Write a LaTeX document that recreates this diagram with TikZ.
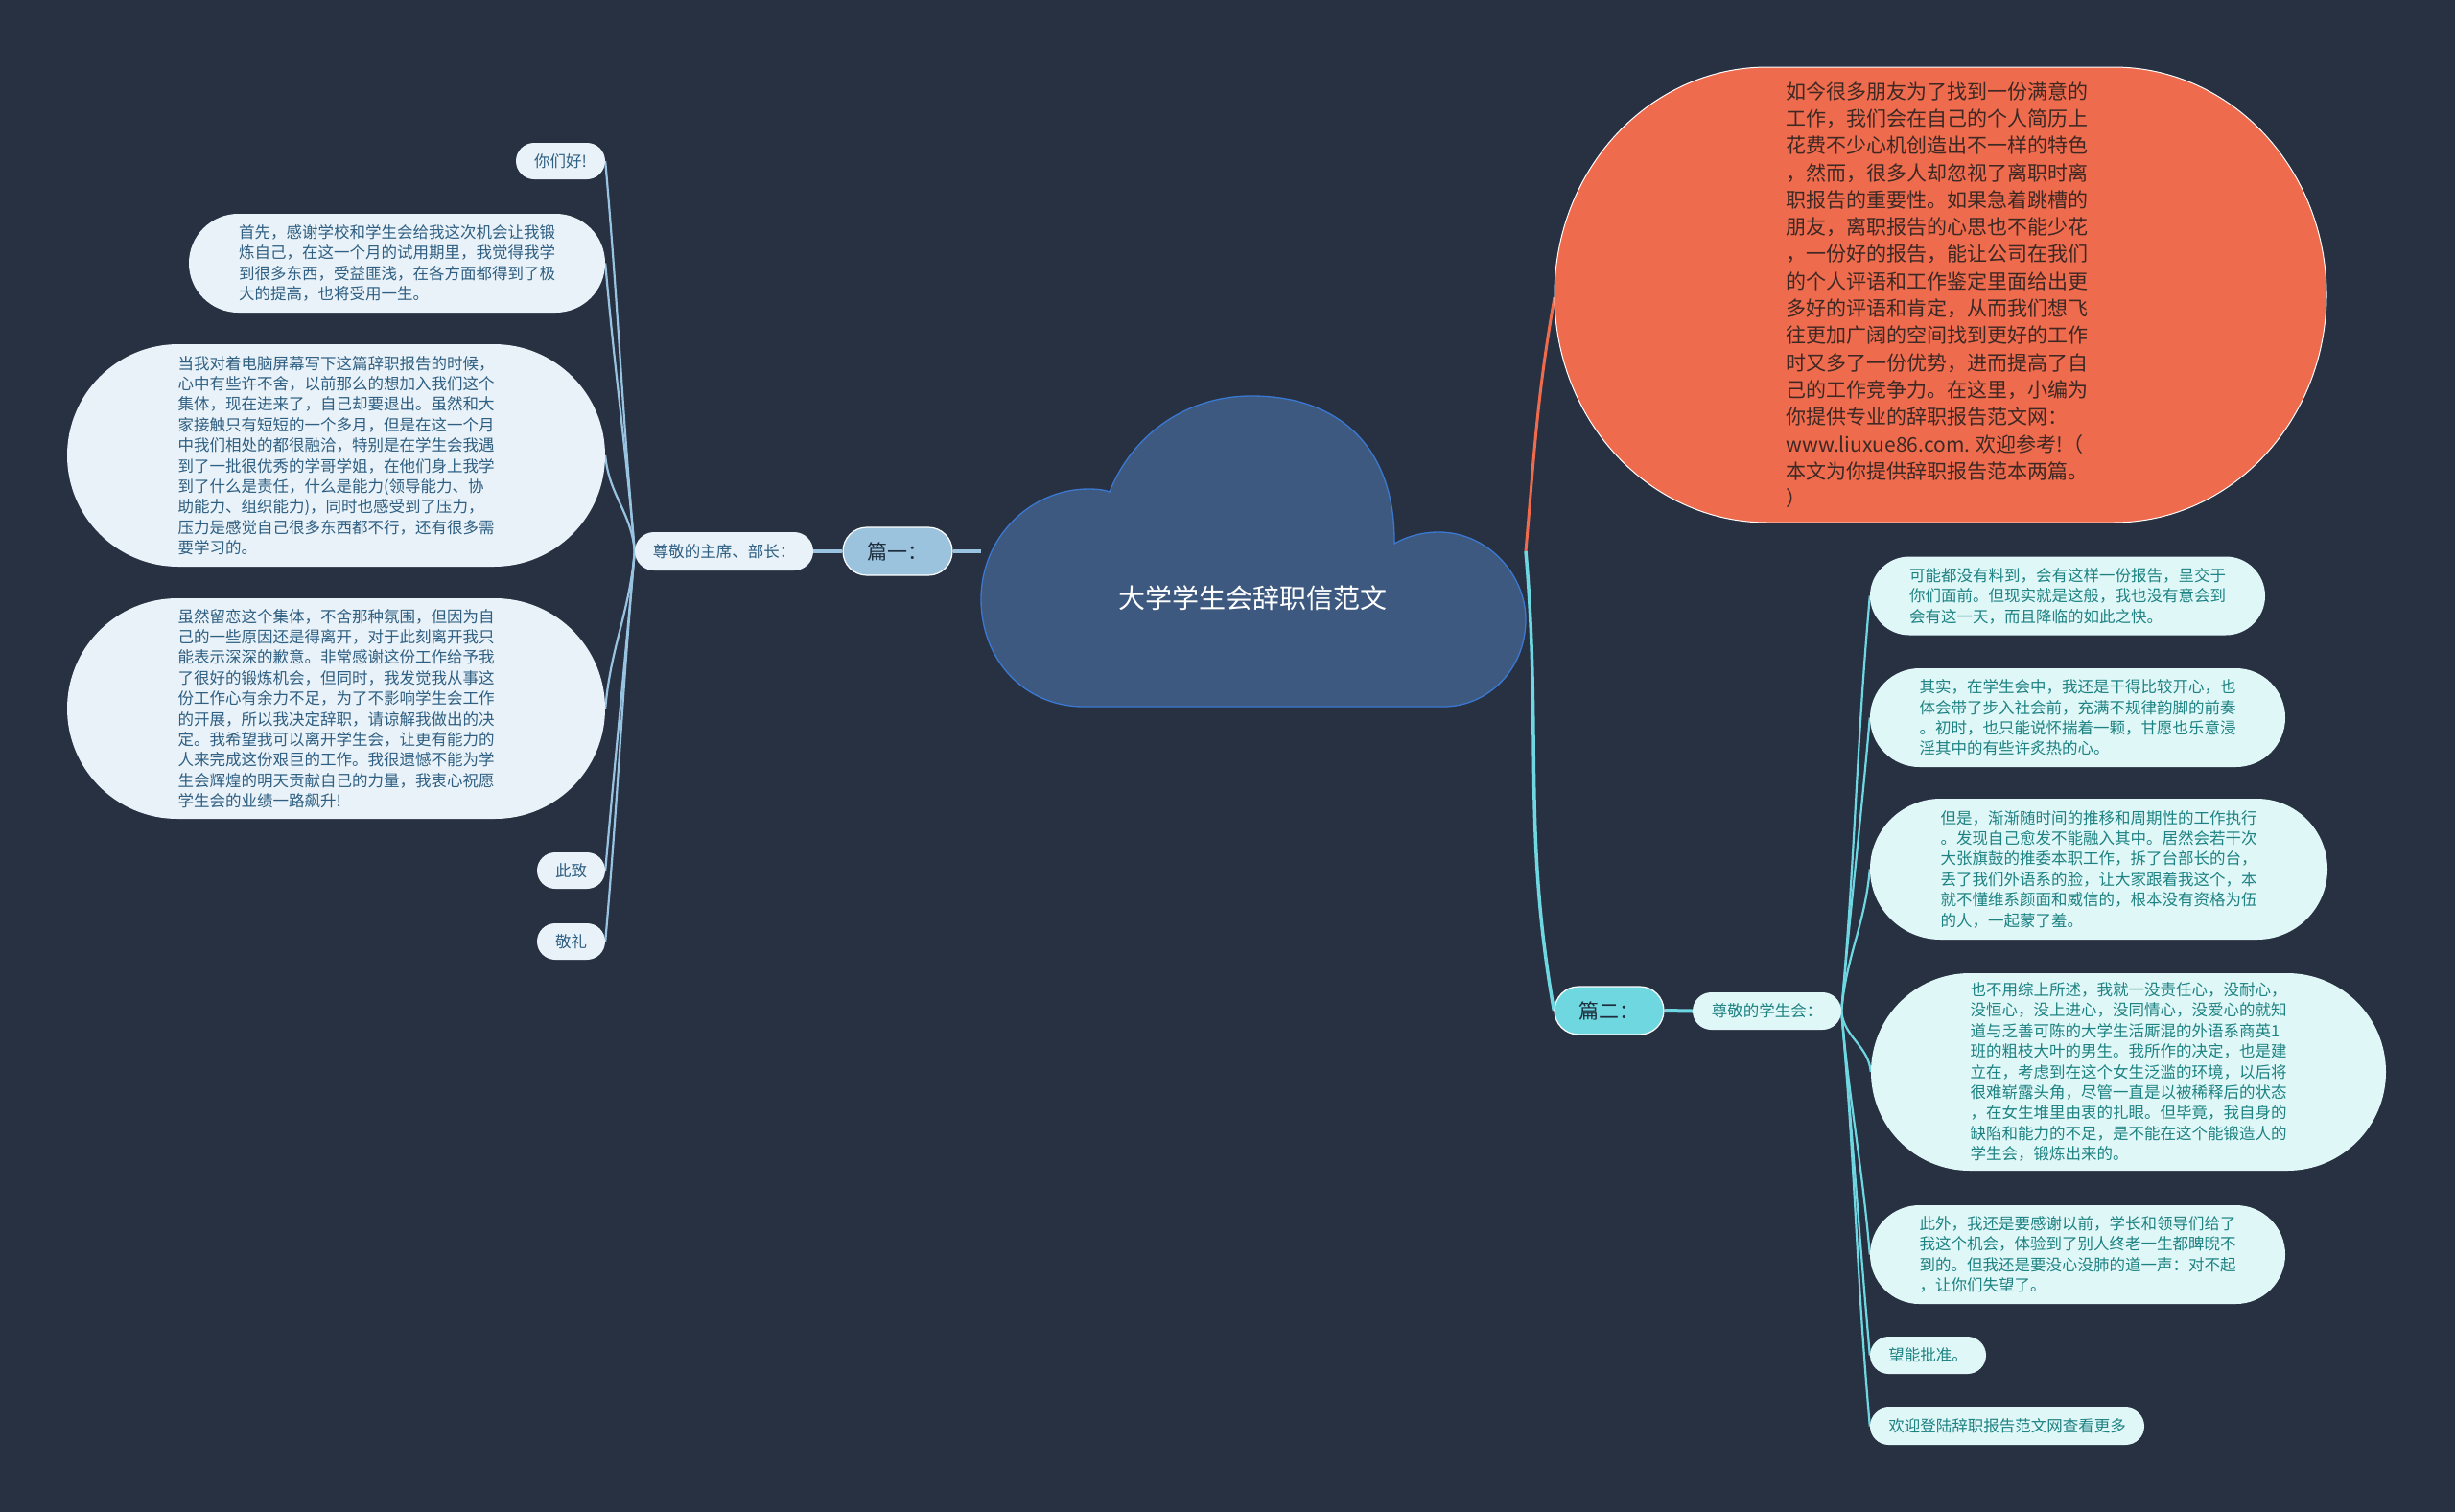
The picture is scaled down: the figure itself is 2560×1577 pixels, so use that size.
\documentclass[tikz,border=0pt]{standalone}
\usepackage{fontspec}
\setmainfont{Noto Sans CJK SC}
\pgfdeclarelayer{bglayer}
\pgfdeclarelayer{edges}
\pgfsetlayers{bglayer,edges,main}
\definecolor{bgc}{RGB}{40,49,66}
\definecolor{cloudfill}{RGB}{61,89,128}
\definecolor{clouddraw}{RGB}{58,120,210}
\definecolor{lfill}{RGB}{233,242,248}
\definecolor{ltext}{RGB}{47,95,130}
\definecolor{lline}{RGB}{152,196,226}
\definecolor{p1fill}{RGB}{156,195,222}
\definecolor{rfill}{RGB}{224,247,248}
\definecolor{rtext}{RGB}{30,130,130}
\definecolor{rline}{RGB}{110,215,225}
\definecolor{p2fill}{RGB}{110,215,224}
\definecolor{orfill}{RGB}{238,107,77}
\definecolor{ortext}{RGB}{62,40,36}
\definecolor{ptext}{RGB}{30,45,60}
\newcommand\myfs[2]{\fontsize{#1}{#2}\selectfont}
\begin{document}
\begin{tikzpicture}[x=1pt,y=1pt,
  pill/.style n args={3}{minimum width=#1pt, minimum height=#2pt, rounded corners=#3pt},
  lbox/.style={fill=lfill, text=ltext, inner sep=0pt, align=left, font=\myfs{16.5}{21.4}},
  rbox/.style={fill=rfill, text=rtext, inner sep=0pt, align=left, font=\myfs{16.5}{21.4}},
  pbox/.style={draw=white, line width=1.2pt, inner sep=0pt, text=ptext, font=\myfs{21}{26}},
  lcon/.style={draw=lline, line width=2.2pt},
  rcon/.style={draw=rline, line width=2.2pt},
  lmain/.style={draw=lline, line width=4pt},
  rmain/.style={draw=rline, line width=4pt},
  ell/.style={x radius=222, y radius=237.5},
]
\begin{pgfonlayer}{bglayer}
\fill[bgc] (0,0) rectangle (2560,-1577);
\end{pgfonlayer}
\useasboundingbox (0,0) rectangle (2560,-1577);

% central cloud
\draw[fill=cloudfill, draw=clouddraw, line width=1.3pt]
  (1130,-737) .. controls (1068,-737) and (1023,-688) .. (1023,-625)
  .. controls (1023,-560) and (1075,-510) .. (1135,-510)
  .. controls (1145,-510) and (1152,-511) .. (1157,-513)
  .. controls (1180,-455) and (1235,-413) .. (1305,-413)
  .. controls (1400,-413) and (1455,-470) .. (1454,-567)
  .. controls (1468,-559) and (1484,-555) .. (1500,-555)
  .. controls (1552,-555) and (1591,-600) .. (1591,-646)
  .. controls (1591,-698) and (1552,-737) .. (1505,-737)
  -- cycle;
\node[text=white, font=\myfs{28}{34}] (title) at (1306,-624) {大学学生会辞职信范文};
\coordinate (cloudL) at (1023,-575);
\coordinate (cloudR) at (1591,-575);

% left branch
\node[pbox, fill=p1fill, pill={114}{50}{25}] (p1) at (936,-575) {篇一：};
\node[lbox, align=center, pill={186}{40}{20}] (zl) at (755,-575) {尊敬的主席、部长：};
\node[lbox, align=center, pill={93}{38}{19}] (hello) at (584.5,-168) {你们好!};
\node[lbox, pill={434}{103}{51.5}] (first) at (414,-274.5) {首先，感谢学校和学生会给我这次机会让我锻\\炼自己，在这一个月的试用期里，我觉得我学\\到很多东西，受益匪浅，在各方面都得到了极\\大的提高，也将受用一生。};
\node[lbox, pill={561}{232}{116}] (dang) at (350.5,-475) {当我对着电脑屏幕写下这篇辞职报告的时候，\\心中有些许不舍，以前那么的想加入我们这个\\集体，现在进来了，自己却要退出。虽然和大\\家接触只有短短的一个多月，但是在这一个月\\中我们相处的都很融洽，特别是在学生会我遇\\到了一批很优秀的学哥学姐，在他们身上我学\\到了什么是责任，什么是能力(领导能力、协\\助能力、组织能力)，同时也感受到了压力，\\压力是感觉自己很多东西都不行，还有很多需\\要学习的。};
\node[lbox, pill={561}{230}{115}] (sui) at (350.5,-739) {虽然留恋这个集体，不舍那种氛围，但因为自\\己的一些原因还是得离开，对于此刻离开我只\\能表示深深的歉意。非常感谢这份工作给予我\\了很好的锻炼机会，但同时，我发觉我从事这\\份工作心有余力不足，为了不影响学生会工作\\的开展，所以我决定辞职，请谅解我做出的决\\定。我希望我可以离开学生会，让更有能力的\\人来完成这份艰巨的工作。我很遗憾不能为学\\生会辉煌的明天贡献自己的力量，我衷心祝愿\\学生会的业绩一路飙升!};
\node[lbox, align=center, pill={71}{38}{19}] (cizhi) at (595.5,-908) {此致};
\node[lbox, align=center, pill={71}{38}{19}] (jingli) at (595.5,-982) {敬礼};

% right branch
\draw[fill=orfill, draw=white, line width=1pt]
  (1843,-70) -- (2204,-70) arc[start angle=90, end angle=-90, ell]
  -- (1843,-545) arc[start angle=-90, end angle=-270, ell] -- cycle;
\node[text=ortext, inner sep=0pt, align=left,
  font=\myfs{21}{28.3}, minimum width=805pt, minimum height=475pt] (orange) at (2020,-307.5)
  {如今很多朋友为了找到一份满意的\\工作，我们会在自己的个人简历上\\花费不少心机创造出不一样的特色\\，然而，很多人却忽视了离职时离\\职报告的重要性。如果急着跳槽的\\朋友，离职报告的心思也不能少花\\，一份好的报告，能让公司在我们\\的个人评语和工作鉴定里面给出更\\多好的评语和肯定，从而我们想飞\\往更加广阔的空间找到更好的工作\\时又多了一份优势，进而提高了自\\己的工作竞争力。在这里，小编为\\你提供专业的辞职报告范文网：\\www.liuxue86.com. 欢迎参考!（\\本文为你提供辞职报告范本两篇。\\）};
\coordinate (orW) at (1621,-310);
\node[pbox, fill=p2fill, pill={114}{50}{25}] (p2) at (1678,-1054) {篇二：};
\node[rbox, align=center, pill={155}{39}{19.5}] (zr) at (1842.5,-1054.5) {尊敬的学生会：};
\node[rbox, pill={412}{82}{41}] (keneng) at (2156,-621.5) {可能都没有料到，会有这样一份报告，呈交于\\你们面前。但现实就是这般，我也没有意会到\\会有这一天，而且降临的如此之快。};
\node[rbox, pill={433}{103}{51.5}] (qishi) at (2166.5,-748.5) {其实，在学生会中，我还是干得比较开心，也\\体会带了步入社会前，充满不规律韵脚的前奏\\。初时，也只能说怀揣着一颗，甘愿也乐意浸\\淫其中的有些许炙热的心。};
\node[rbox, pill={477}{147}{73.5}] (danshi) at (2188.5,-906.5) {但是，渐渐随时间的推移和周期性的工作执行\\。发现自己愈发不能融入其中。居然会若干次\\大张旗鼓的推委本职工作，拆了台部长的台，\\丢了我们外语系的脸，让大家跟着我这个，本\\就不懂维系颜面和威信的，根本没有资格为伍\\的人，一起蒙了羞。};
\node[rbox, pill={537}{206}{103}] (yebu) at (2219.5,-1118) {也不用综上所述，我就一没责任心，没耐心，\\没恒心，没上进心，没同情心，没爱心的就知\\道与乏善可陈的大学生活厮混的外语系商英1\\班的粗枝大叶的男生。我所作的决定，也是建\\立在，考虑到在这个女生泛滥的环境，以后将\\很难崭露头角，尽管一直是以被稀释后的状态\\，在女生堆里由衷的扎眼。但毕竟，我自身的\\缺陷和能力的不足，是不能在这个能锻造人的\\学生会，锻炼出来的。};
\node[rbox, pill={433}{103}{51.5}] (ciwai) at (2166.5,-1308.5) {此外，我还是要感谢以前，学长和领导们给了\\我这个机会，体验到了别人终老一生都睥睨不\\到的。但我还是要没心没肺的道一声：对不起\\，让你们失望了。};
\node[rbox, align=center, pill={121}{39}{19.5}] (wangneng) at (2010.5,-1413.5) {望能批准。};
\node[rbox, align=center, pill={286}{39}{19.5}] (huanying) at (2093,-1487.5) {欢迎登陆辞职报告范文网查看更多};

\begin{pgfonlayer}{edges}
\draw[lmain] (cloudL) -- (p1.east);
\draw[lmain] (p1.west) -- (zl.east);
\draw[lcon] (zl.west) to[out=95,in=-85] (hello.east);
\draw[lcon] (zl.west) to[out=95,in=-85] (first.east);
\draw[lcon] (zl.west) to[out=95,in=-85] (dang.east);
\draw[lcon] (zl.west) to[out=-95,in=85] (sui.east);
\draw[lcon] (zl.west) to[out=-95,in=85] (cizhi.east);
\draw[lcon] (zl.west) to[out=-95,in=85] (jingli.east);

\draw[draw=orfill, line width=3pt] (cloudR) to[out=85,in=-100] (orW);
\draw[rmain, line width=3.5pt] (cloudR) to[out=-85,in=100] (p2.west);
\draw[rmain] (p2.east) -- (zr.west);
\draw[rcon] (zr.east) to[out=85,in=-95] (keneng.west);
\draw[rcon] (zr.east) to[out=85,in=-95] (qishi.west);
\draw[rcon] (zr.east) to[out=85,in=-95] (danshi.west);
\draw[rcon] (zr.east) to[out=-85,in=95] (yebu.west);
\draw[rcon] (zr.east) to[out=-85,in=95] (ciwai.west);
\draw[rcon] (zr.east) to[out=-85,in=95] (wangneng.west);
\draw[rcon] (zr.east) to[out=-85,in=95] (huanying.west);
\end{pgfonlayer}
\end{tikzpicture}
\end{document}
